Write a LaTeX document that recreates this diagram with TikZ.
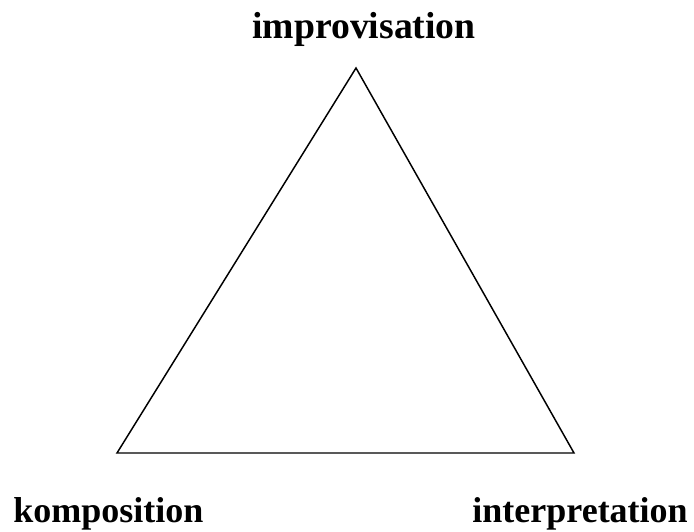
\documentclass[tikz,border=0pt]{standalone}
\usepackage{fontspec}
\setmainfont{Liberation Serif}
\usetikzlibrary{positioning}

\begin{document}
\begin{tikzpicture}[
    x=0.025cm, y=-0.025cm,
    label/.style={inner sep=0pt, anchor=base, font=\fontsize{25.6}{30}\selectfont\bfseries},
    edge/.style={line width=1.05pt, line join=miter}
]
\useasboundingbox (0,0) rectangle (694,531);
% ecken des dreiecks
\coordinate (I) at (356,68);
\coordinate (K) at (117,453);
\coordinate (P) at (574,453);
\draw[edge] (I) -- (K) -- (P) -- cycle;
% beschriftungen
\node[label, font=\fontsize{26.8}{30}\selectfont\bfseries] (improv) at (364,39) {improvisation};
\node[label, anchor=base west] (kompos) at (13,522) {komposition};
\node[label, anchor=base east] (interp) at (688,522) {interpretation};
\end{tikzpicture}
\end{document}
